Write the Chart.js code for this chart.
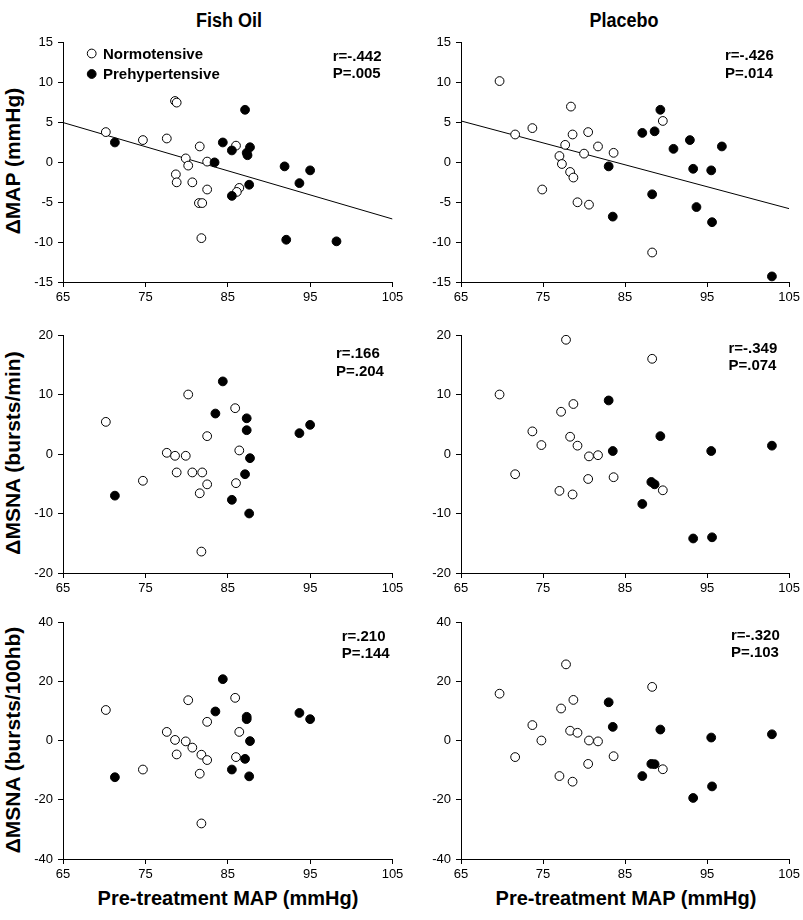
<!DOCTYPE html>
<html>
<head>
<meta charset="utf-8">
<script src="https://cdn.jsdelivr.net/npm/chart.js@4.4.1/dist/chart.umd.min.js"></script>
<style>
  html, body { margin: 0; padding: 0; background: #fff; }
  #wrap { position: relative; width: 803px; height: 920px; background: #fff; overflow: hidden; font-family: 'Liberation Sans', Arial, sans-serif; color: #000; }
  canvas { position: absolute; }
  .t { position: absolute; font-weight: bold; white-space: nowrap; transform: translate(-50%, -50%); line-height: 1; }
  .ct { transform: translate(-50%, -50%) scaleX(0.9); }
  .yt { transform: translate(-50%, -50%) rotate(-90deg); }
</style>
</head>
<body>
<div id="wrap">
  <div class="t ct" style="left:229px;top:20px;font-size:20px;">Fish Oil</div>
  <div class="t ct" style="left:624px;top:20px;font-size:20px;">Placebo</div>
  <div class="t yt" style="left:12px;top:161px;font-size:21px;">ΔMAP (mmHg)</div>
  <div class="t yt" style="left:12px;top:453px;font-size:21px;">ΔMSNA (bursts/min)</div>
  <div class="t yt" style="left:12px;top:740px;font-size:21px;">ΔMSNA (bursts/100hb)</div>
  <div class="t" style="left:228px;top:898px;font-size:20px;">Pre-treatment MAP (mmHg)</div>
  <div class="t" style="left:626px;top:898px;font-size:20px;">Pre-treatment MAP (mmHg)</div>
  <canvas id="c1"></canvas>
  <canvas id="c2"></canvas>
  <canvas id="c3"></canvas>
  <canvas id="c4"></canvas>
  <canvas id="c5"></canvas>
  <canvas id="c6"></canvas>
</div>
<script>
// ---------------- DATA ----------------
const xTicks = [65, 75, 85, 95, 105];
const mapTicks = [-15, -10, -5, 0, 5, 10, 15];
const msnaMinTicks = [-20, -10, 0, 10, 20];
const msnaHbTicks = [-40, -20, 0, 20, 40];

const seriesNames = ['Normotensive', 'Prehypertensive'];

// Fish Oil, ΔMAP
const fishMapNormoX = [70.2, 74.7, 77.6, 78.6, 78.8, 79.9, 80.2, 78.7, 78.8, 80.7, 81.6, 82.5, 82.5, 81.5, 81.9, 81.8, 86.0, 86.4, 86.1];
const fishMapNormoY = [3.8, 2.8, 3.0, 7.7, 7.5, 0.5, -0.4, -1.5, -2.5, -2.5, 2.0, 0.1, -3.4, -5.1, -5.1, -9.5, 2.1, -3.2, -3.7];
const fishMapPreX = [71.3, 83.4, 84.4, 85.5, 85.5, 87.1, 87.3, 87.4, 87.7, 87.6, 91.9, 92.1, 93.7, 95.0, 98.2];
const fishMapPreY = [2.5, 0.0, 2.5, 1.5, -4.2, 6.6, 1.2, 0.9, 1.9, -2.8, -0.5, -9.7, -2.6, -1.0, -9.9];
const fishMapFitX = [65, 105];
const fishMapFitY = [5.0, -7.1];

// Placebo, ΔMAP
const placMapNormoX = [69.7, 71.6, 73.7, 74.9, 78.4, 78.6, 77.7, 77.0, 77.3, 78.3, 78.7, 79.2, 80.6, 80.0, 80.5, 81.7, 83.6, 88.3, 89.6];
const placMapNormoY = [10.2, 3.5, 4.3, -3.4, 7.0, 3.5, 2.2, 0.8, -0.2, -1.2, -1.9, -5.0, -5.3, 1.1, 3.8, 2.0, 1.2, -11.3, 5.2];
const placMapPreX = [83.0, 83.5, 87.1, 88.6, 88.3, 89.3, 90.9, 92.9, 93.3, 93.7, 95.5, 95.6, 96.8, 102.9];
const placMapPreY = [-0.5, -6.8, 3.7, 3.9, -4.0, 6.6, 1.7, 2.8, -0.8, -5.6, -1.0, -7.5, 2.0, -14.3];
const placMapFitX = [65, 105];
const placMapFitY = [5.2, -5.8];

// Fish Oil, ΔMSNA (bursts/min)
const fishMinNormoX = [70.2, 74.7, 77.6, 78.6, 79.9, 78.8, 80.7, 81.9, 82.5, 81.6, 80.2, 82.5, 85.9, 86.4, 86.0, 81.8];
const fishMinNormoY = [5.4, -4.5, 0.2, -0.3, -0.3, -3.1, -3.1, -3.1, -5.1, -6.6, 10.0, 3.0, 7.7, 0.6, -4.9, -16.4];
const fishMinPreX = [71.3, 84.4, 83.5, 87.3, 87.3, 87.7, 87.1, 85.5, 87.6, 93.7, 95.0];
const fishMinPreY = [-7.0, 12.2, 6.8, 6.0, 4.0, -0.7, -3.4, -7.7, -10.0, 3.5, 4.9];

// Placebo, ΔMSNA (bursts/min)
const placMinNormoX = [77.8, 88.3, 69.7, 78.7, 77.2, 73.7, 74.8, 78.3, 79.2, 80.6, 81.7, 71.6, 80.5, 83.6, 77.0, 78.6, 89.6];
const placMinNormoY = [19.2, 16.0, 10.0, 8.4, 7.1, 3.8, 1.5, 2.9, 1.4, -0.4, -0.2, -3.4, -4.2, -3.9, -6.2, -6.8, -6.1];
const placMinPreX = [83.0, 83.5, 89.3, 88.2, 88.6, 87.1, 93.3, 95.6, 95.5, 102.9];
const placMinPreY = [9.0, 0.5, 3.0, -4.7, -5.1, -8.4, -14.2, -14.0, 0.5, 1.4];

// Fish Oil, ΔMSNA (bursts/100hb)
const fishHbNormoX = [70.2, 74.7, 77.6, 78.6, 79.9, 80.7, 78.8, 81.8, 82.5, 81.6, 80.2, 82.5, 85.9, 86.4, 86.0, 81.8];
const fishHbNormoY = [10.3, -9.8, 2.9, 0.2, -0.3, -2.4, -4.7, -4.8, -6.6, -11.2, 13.6, 6.3, 14.4, 2.9, -5.6, -28.0];
const fishHbPreX = [71.3, 84.4, 83.5, 87.3, 87.3, 87.7, 87.1, 85.5, 87.6, 93.7, 95.0];
const fishHbPreY = [-12.4, 20.7, 9.8, 8.0, 7.2, -0.2, -6.2, -9.8, -12.1, 9.3, 7.2];

// Placebo, ΔMSNA (bursts/100hb)
const placHbNormoX = [77.8, 88.3, 69.7, 78.7, 77.2, 73.7, 78.3, 79.2, 74.8, 80.6, 81.7, 83.6, 71.6, 80.5, 89.6, 77.0, 78.6];
const placHbNormoY = [25.7, 18.1, 15.8, 13.7, 10.8, 5.2, 3.3, 2.6, 0.0, 0.0, -0.3, -5.3, -5.6, -7.9, -9.7, -12.0, -13.9];
const placHbPreX = [83.0, 83.5, 89.3, 95.5, 102.9, 88.2, 88.6, 87.1, 95.6, 93.3];
const placHbPreY = [12.9, 4.6, 3.7, 1.0, 2.1, -7.9, -8.0, -12.0, -15.5, -19.4];

const statLabels = [
  ['r=-.442', 'P=.005'],
  ['r=-.426', 'P=.014'],
  ['r=.166', 'P=.204'],
  ['r=-.349', 'P=.074'],
  ['r=.210', 'P=.144'],
  ['r=-.320', 'P=.103']
];

// ---------------- LAYOUT (page pixels) ----------------
const FONT = "'Liberation Sans', Arial, sans-serif";
const cols = [
  { canvasLeft: 0, canvasWidth: 410, chartLeft: 63, chartRight: 392.5 },
  { canvasLeft: 400, canvasWidth: 403, chartLeft: 461, chartRight: 791 }
];
const rows = [
  { canvasTop: 30, chartTop: 42, chartBottom: 282 },
  { canvasTop: 320, chartTop: 335, chartBottom: 573 },
  { canvasTop: 607, chartTop: 622, chartBottom: 859 }
];
const X_AXIS_H = 30;
const statPos = [
  { x: 332.7, y1: 60.5, y2: 78 },
  { x: 725, y1: 60, y2: 77.5 },
  { x: 336, y1: 358, y2: 376 },
  { x: 728.5, y1: 352.5, y2: 370 },
  { x: 341.7, y1: 640.5, y2: 658 },
  { x: 731, y1: 640, y2: 657 }
];
const legendPos = { cx: 91.7, y1: 53.5, y2: 74, tx: 103 };
const POINT_R = 4.4;

function pts(xs, ys) { return xs.map((x, i) => ({ x: x, y: ys[i] })); }

function makePanel(id, col, row, yTicks, normX, normY, preX, preY, fitX, fitY, statIdx, showLegend) {
  const c = cols[col], r = rows[row];
  const canvas = document.getElementById(id);
  const H = r.chartBottom + X_AXIS_H - r.canvasTop;
  canvas.width = c.canvasWidth;
  canvas.height = H;
  canvas.style.left = c.canvasLeft + 'px';
  canvas.style.top = r.canvasTop + 'px';
  canvas.style.width = c.canvasWidth + 'px';
  canvas.style.height = H + 'px';

  const datasets = [
    {
      label: seriesNames[1], data: pts(preX, preY), order: 0,
      pointRadius: POINT_R, pointBackgroundColor: '#000', pointBorderColor: '#000', pointBorderWidth: 1,
      backgroundColor: '#000', borderColor: '#000', showLine: false
    },
    {
      label: seriesNames[0], data: pts(normX, normY), order: 1,
      pointRadius: POINT_R, pointBackgroundColor: '#fff', pointBorderColor: '#000', pointBorderWidth: 1,
      backgroundColor: '#fff', borderColor: '#000', showLine: false
    }
  ];
  if (fitX) {
    datasets.push({
      label: 'fit', data: pts(fitX, fitY), order: 2, showLine: true,
      borderColor: '#000', borderWidth: 1, pointRadius: 0, fill: false, tension: 0
    });
  }

  const sp = statPos[statIdx];
  const annot = {
    id: 'annot' + id,
    afterDraw(chart) {
      const ctx = chart.ctx;
      ctx.save();
      ctx.fillStyle = '#000';
      ctx.font = 'bold 15px ' + FONT;
      ctx.textAlign = 'left';
      ctx.textBaseline = 'alphabetic';
      ctx.fillText(statLabels[statIdx][0], sp.x - c.canvasLeft, sp.y1 - r.canvasTop);
      ctx.fillText(statLabels[statIdx][1], sp.x - c.canvasLeft, sp.y2 - r.canvasTop);
      if (showLegend) {
        const lx = legendPos.cx - c.canvasLeft;
        const ys = [legendPos.y1 - r.canvasTop, legendPos.y2 - r.canvasTop];
        const fills = ['#fff', '#000'];
        for (let i = 0; i < 2; i++) {
          ctx.beginPath();
          ctx.arc(lx, ys[i], POINT_R, 0, Math.PI * 2);
          ctx.fillStyle = fills[i];
          ctx.fill();
          ctx.lineWidth = 1;
          ctx.strokeStyle = '#000';
          ctx.stroke();
          ctx.fillStyle = '#000';
          ctx.textBaseline = 'middle';
          ctx.fillText(seriesNames[i], legendPos.tx - c.canvasLeft, ys[i] + 1);
        }
      }
      ctx.restore();
    }
  };

  const axisCommon = {
    grid: { display: true, drawOnChartArea: false, drawTicks: true, tickLength: 5, tickColor: '#000', tickWidth: 1 },
    border: { display: true, color: '#000', width: 1 }
  };

  return new Chart(canvas, {
    type: 'scatter',
    data: { datasets: datasets },
    options: {
      responsive: false,
      animation: false,
      devicePixelRatio: 1,
      layout: { padding: { top: r.chartTop - r.canvasTop, right: c.canvasLeft + c.canvasWidth - c.chartRight, left: 0, bottom: 0 } },
      plugins: { legend: { display: false }, tooltip: { enabled: false } },
      scales: {
        x: Object.assign({}, axisCommon, {
          type: 'linear', min: xTicks[0], max: xTicks[xTicks.length - 1],
          afterBuildTicks: s => { s.ticks = xTicks.map(v => ({ value: v })); },
          afterFit: s => { s.height = X_AXIS_H; },
          ticks: { color: '#000', font: { family: FONT, size: 13 }, padding: 3, maxRotation: 0, autoSkip: false }
        }),
        y: Object.assign({}, axisCommon, {
          type: 'linear', min: yTicks[0], max: yTicks[yTicks.length - 1],
          afterBuildTicks: s => { s.ticks = yTicks.map(v => ({ value: v })); },
          afterFit: s => { s.width = c.chartLeft - c.canvasLeft; },
          ticks: { color: '#000', font: { family: FONT, size: 13 }, padding: 5, autoSkip: false }
        })
      }
    },
    plugins: [annot]
  });
}

makePanel('c1', 0, 0, mapTicks, fishMapNormoX, fishMapNormoY, fishMapPreX, fishMapPreY, fishMapFitX, fishMapFitY, 0, true);
makePanel('c2', 1, 0, mapTicks, placMapNormoX, placMapNormoY, placMapPreX, placMapPreY, placMapFitX, placMapFitY, 1, false);
makePanel('c3', 0, 1, msnaMinTicks, fishMinNormoX, fishMinNormoY, fishMinPreX, fishMinPreY, null, null, 2, false);
makePanel('c4', 1, 1, msnaMinTicks, placMinNormoX, placMinNormoY, placMinPreX, placMinPreY, null, null, 3, false);
makePanel('c5', 0, 2, msnaHbTicks, fishHbNormoX, fishHbNormoY, fishHbPreX, fishHbPreY, null, null, 4, false);
makePanel('c6', 1, 2, msnaHbTicks, placHbNormoX, placHbNormoY, placHbPreX, placHbPreY, null, null, 5, false);
</script>
</body>
</html>
